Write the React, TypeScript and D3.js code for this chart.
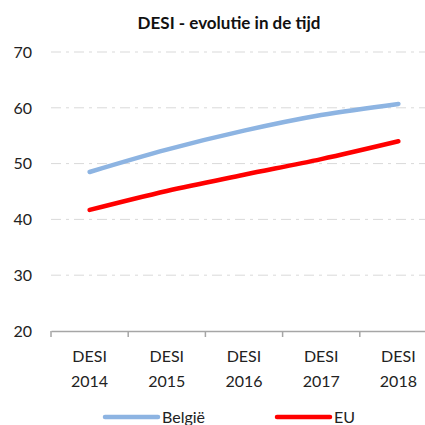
import React, { useEffect, useRef } from 'react';
import * as d3 from 'd3';

const categories = ['DESI 2014', 'DESI 2015', 'DESI 2016', 'DESI 2017', 'DESI 2018'];
const belgie = [48.5, 52.5, 55.9, 58.7, 60.7];
const eu = [41.7, 45.1, 48.0, 50.8, 54.0];
const yTicks = [20, 30, 40, 50, 60, 70];

const FONT = 'Lato, "Open Sans", sans-serif';

function LineChart() {
  const svgRef = useRef<SVGSVGElement>(null);

  useEffect(() => {
    const svg = d3.select(svgRef.current);
    svg.selectAll('*').remove();

    const width = 425;
    const height = 425;
    const margin = { top: 52, left: 51, bottom: 331 };

    const x = d3.scaleBand().domain(categories).range([margin.left, 437]);
    const y = d3.scaleLinear().domain([20, 70]).range([margin.bottom, margin.top]);

    svg.attr('width', width).attr('height', height);

    // gridlines
    svg.append('g')
      .selectAll('line')
      .data(yTicks.filter((t) => t > 20))
      .enter()
      .append('line')
      .attr('x1', margin.left)
      .attr('x2', width)
      .attr('y1', (d) => y(d))
      .attr('y2', (d) => y(d))
      .attr('stroke', '#d9d9d9')
      .attr('stroke-width', 1)
      .attr('stroke-dasharray', '10 5 3 5');

    // y labels
    svg.append('g')
      .selectAll('text')
      .data(yTicks)
      .enter()
      .append('text')
      .attr('x', 32)
      .attr('y', (d) => y(d))
      .attr('dy', '0.36em')
      .attr('text-anchor', 'end')
      .attr('font-family', FONT)
      .attr('font-size', 16)
      .attr('fill', '#222')
      .text((d) => d);

    // x axis
    const xAxis = svg.append('g')
      .attr('transform', `translate(0,${margin.bottom})`)
      .call(d3.axisBottom(x).tickSize(0).tickFormat(() => ''));
    xAxis.select('.domain').attr('stroke', '#a6a6a6').attr('stroke-width', 1.5);
    xAxis.append('g')
      .selectAll('line')
      .data(categories.map((c) => x(c)!).concat([437]))
      .enter()
      .append('line')
      .attr('x1', (d) => d)
      .attr('x2', (d) => d)
      .attr('y1', 0)
      .attr('y2', 6)
      .attr('stroke', '#a6a6a6')
      .attr('stroke-width', 1.5);

    const labels = svg.append('g')
      .selectAll('text')
      .data(categories)
      .enter()
      .append('text')
      .attr('x', (d) => x(d)! + x.bandwidth() / 2)
      .attr('y', 362)
      .attr('text-anchor', 'middle')
      .attr('font-family', FONT)
      .attr('font-size', 16)
      .attr('fill', '#222');
    labels.append('tspan')
      .attr('x', (d) => x(d)! + x.bandwidth() / 2)
      .text((d) => d.split(' ')[0]);
    labels.append('tspan')
      .attr('x', (d) => x(d)! + x.bandwidth() / 2)
      .attr('dy', 25)
      .text((d) => d.split(' ')[1]);

    const line = d3.line<number>()
      .x((_, i) => x(categories[i])! + x.bandwidth() / 2)
      .y((d) => y(d))
      .curve(d3.curveMonotoneX);

    const series = [
      { name: 'België', values: belgie, color: '#8db4e2' },
      { name: 'EU', values: eu, color: '#ff0000' },
    ];

    series.forEach((s) => {
      svg.append('path')
        .datum(s.values)
        .attr('d', line)
        .attr('fill', 'none')
        .attr('stroke', s.color)
        .attr('stroke-width', 4.5)
        .attr('stroke-linecap', 'round');
    });

    // title
    svg.append('text')
      .attr('x', 229)
      .attr('y', 29)
      .attr('text-anchor', 'middle')
      .attr('font-family', FONT)
      .attr('font-weight', 'bold')
      .attr('font-size', 17)
      .attr('fill', '#111')
      .text('DESI - evolutie in de tijd');

    // legend
    const legendX = [105, 277];
    const legend = svg.append('g')
      .selectAll('g')
      .data(series)
      .enter()
      .append('g')
      .attr('transform', (_, i) => `translate(${legendX[i]},417)`);
    legend.append('line')
      .attr('x1', 0)
      .attr('x2', 53)
      .attr('stroke', (d) => d.color)
      .attr('stroke-width', 4.5)
      .attr('stroke-linecap', 'round');
    legend.append('text')
      .attr('x', 57)
      .attr('y', 6)
      .attr('font-family', FONT)
      .attr('font-size', 16)
      .attr('fill', '#222')
      .text((d) => d.name);
  }, []);

  return <svg ref={svgRef} style={{ position: 'absolute', left: 0, top: 0, overflow: 'hidden' }}></svg>;
}

export default function App() {
  return <LineChart />;
}
